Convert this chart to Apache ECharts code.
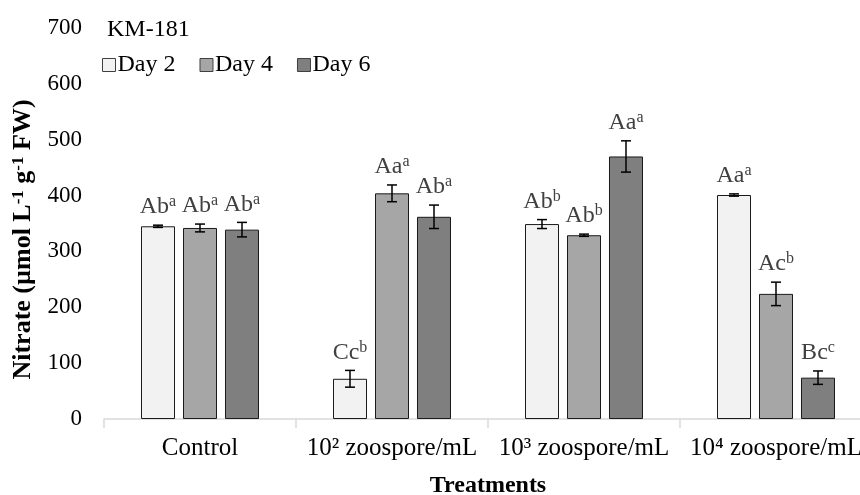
<!DOCTYPE html>
<html>
<head>
<meta charset="utf-8">
<script src="https://cdn.jsdelivr.net/npm/echarts@6/dist/echarts.min.js"></script>
<style>
  html, body { margin: 0; padding: 0; background: #fff; }
  #chart { width: 860px; height: 495px; }
</style>
</head>
<body>
<div id="chart"></div>
<script>
const categories = ['Control', '10² zoospore/mL', '10³ zoospore/mL', '10⁴ zoospore/mL']
const seriesNames = ['Day 2', 'Day 4', 'Day 6']
const yTicks = [0, 100, 200, 300, 400, 500, 600, 700]

const day2 = [345, 72, 349, 401]
const day4 = [342, 404, 329, 224]
const day6 = [339, 362, 470, 74]

const day2Err = [2, 15, 8, 2]
const day4Err = [7, 15, 2, 21]
const day6Err = [13, 21, 28, 12]

const day2Letters = [['Ab', 'a'], ['Cc', 'b'], ['Ab', 'b'], ['Aa', 'a']]
const day4Letters = [['Ab', 'a'], ['Aa', 'a'], ['Ab', 'b'], ['Ac', 'b']]
const day6Letters = [['Ab', 'a'], ['Ab', 'a'], ['Aa', 'a'], ['Bc', 'c']]

const colors = ['#f2f2f2', '#a6a6a6', '#7f7f7f']
const FONT = '"Liberation Serif", "Times New Roman", serif'

const chart = echarts.init(document.getElementById('chart'))

const BAR_W = 34
const GAP = 8

const makeErrSeries = (values, errs, letters, idx) => ({
  name: seriesNames[idx] + ' err',
  type: 'custom',
  z: 10,
  data: values.map((v, i) => [i, v, errs[i]]),
  renderItem: (params, api) => {
    const i = api.value(0)
    const v = api.value(1)
    const e = api.value(2)
    const top = api.coord([i, v + e])
    const bot = api.coord([i, v - e])
    const cx = top[0] + (idx - 1) * (BAR_W + GAP)
    const lineStyle = { stroke: '#000', lineWidth: 1.5 }
    const lab = letters[params.dataIndex]
    return {
      type: 'group',
      children: [
        { type: 'line', shape: { x1: cx, y1: top[1], x2: cx, y2: bot[1] }, style: lineStyle },
        { type: 'line', shape: { x1: cx - 5, y1: top[1], x2: cx + 5, y2: top[1] }, style: lineStyle },
        { type: 'line', shape: { x1: cx - 5, y1: bot[1], x2: cx + 5, y2: bot[1] }, style: lineStyle },
        {
          type: 'text',
          style: {
            x: cx,
            y: top[1] - 5,
            text: '{m|' + lab[0] + '}{s|' + lab[1] + '}',
            align: 'center',
            verticalAlign: 'bottom',
            rich: {
              m: { fontSize: 24, fontFamily: FONT, fill: '#404040', color: '#404040' },
              s: { fontSize: 16, fontFamily: FONT, fill: '#404040', color: '#404040', verticalAlign: 'top', padding: [0, 0, 10, 0] }
            }
          }
        }
      ]
    }
  }
})

const makeBar = (values, idx) => ({
  name: seriesNames[idx],
  type: 'bar',
  data: values,
  barWidth: BAR_W,
  barGap: (GAP / BAR_W * 100).toFixed(1) + '%',
  itemStyle: { color: colors[idx], borderColor: '#1a1a1a', borderWidth: 1 }
})

const option = {
  animation: false,
  title: {
    text: 'KM-181',
    left: 102,
    top: 13,
    textStyle: { fontFamily: FONT, fontSize: 24, fontWeight: 'normal', color: '#000' }
  },
  legend: {
    data: seriesNames,
    left: 97,
    top: 48,
    icon: 'rect',
    itemWidth: 13,
    itemHeight: 13,
    itemGap: 24,
    itemStyle: { borderColor: '#404040', borderWidth: 1 },
    textStyle: { fontFamily: FONT, fontSize: 24, color: '#000', padding: [0, 0, 0, -3] }
  },
  grid: { left: 104, top: 28, width: 768, bottom: 76, containLabel: false, outerBoundsMode: 'none' },
  xAxis: {
    type: 'category',
    data: categories,
    name: 'Treatments',
    nameLocation: 'middle',
    nameGap: 55,
    nameTextStyle: { fontFamily: FONT, fontSize: 24, fontWeight: 'bold', color: '#000' },
    axisLine: { lineStyle: { color: '#d9d9d9', width: 1.5 } },
    axisTick: { show: true, length: 9, lineStyle: { color: '#d9d9d9', width: 1.5 } },
    axisLabel: { interval: 0, fontFamily: FONT, fontSize: 25, color: '#000', margin: 17 }
  },
  yAxis: {
    type: 'value',
    min: yTicks[0],
    max: yTicks[yTicks.length - 1],
    interval: 100,
    name: '{b|Nitrate (µmol L}{s|-1}{b| g}{s|-1}{b| FW)}',
    nameLocation: 'middle',
    nameGap: 66,
    nameRotate: 90,
    nameTextStyle: {
      padding: [0, 32, 0, 0],
      rich: {
        b: { fontFamily: FONT, fontSize: 26, fontWeight: 'bold', color: '#000' },
        s: { fontFamily: FONT, fontSize: 17, fontWeight: 'bold', color: '#000', verticalAlign: 'top', padding: [0, 0, 10, 0] }
      }
    },
    axisLine: { show: false },
    axisTick: { show: false },
    splitLine: { show: false },
    axisLabel: { fontFamily: FONT, fontSize: 23, color: '#000', margin: 22 }
  },
  series: [
    makeBar(day2, 0),
    makeBar(day4, 1),
    makeBar(day6, 2),
    makeErrSeries(day2, day2Err, day2Letters, 0),
    makeErrSeries(day4, day4Err, day4Letters, 1),
    makeErrSeries(day6, day6Err, day6Letters, 2)
  ]
}

chart.setOption(option)
</script>
</body>
</html>
